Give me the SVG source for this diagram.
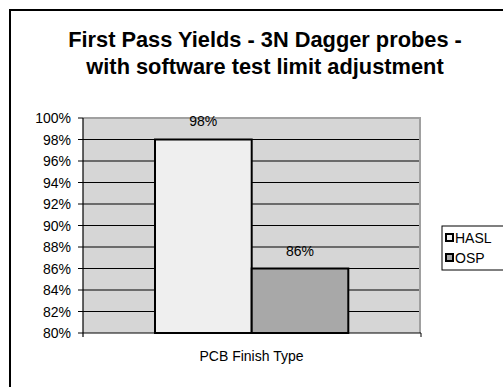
<svg xmlns="http://www.w3.org/2000/svg" width="503" height="387" viewBox="0 0 503 387">
  <style>
    text { font-family: "Liberation Sans", Arial, sans-serif; fill: #000; }
    .title { font-size: 21.8px; font-weight: bold; text-anchor: middle; }
    .tick { font-size: 14px; text-anchor: end; }
    .lbl { font-size: 14px; text-anchor: middle; }
    .leg { font-size: 14px; }
    .grid { stroke: #000; stroke-width: 1; }
    .bar { stroke: #000; stroke-width: 2; }
  </style>
  <rect width="503" height="387" fill="#fff"/>
  <!-- chart frame -->
  <rect x="10" y="10" width="520" height="400" fill="none" stroke="#000" stroke-width="2"/>

  <g id="title">
    <text class="title" x="265" y="47">First Pass Yields - 3N Dagger probes -</text>
    <text class="title" x="265" y="74">with software test limit adjustment</text>
  </g>

  <g id="plot-area">
    <rect x="83" y="118" width="337.5" height="215" fill="#d6d6d6"/>
    <g id="gridlines">
      <line class="grid" x1="83" y1="139.5" x2="420" y2="139.5"/>
      <line class="grid" x1="83" y1="161" x2="420" y2="161"/>
      <line class="grid" x1="83" y1="182.5" x2="420" y2="182.5"/>
      <line class="grid" x1="83" y1="204" x2="420" y2="204"/>
      <line class="grid" x1="83" y1="225.5" x2="420" y2="225.5"/>
      <line class="grid" x1="83" y1="247" x2="420" y2="247"/>
      <line class="grid" x1="83" y1="268.5" x2="420" y2="268.5"/>
      <line class="grid" x1="83" y1="290" x2="420" y2="290"/>
      <line class="grid" x1="83" y1="311.5" x2="420" y2="311.5"/>
    </g>
    <!-- plot border, top and right -->
    <polyline points="83,118 420,118 420,333" fill="none" stroke="#a0a0a0" stroke-width="2"/>
  </g>

  <g id="bar-hasl">
    <rect class="bar" x="155" y="139.5" width="96.7" height="193.5" fill="#efefef"/>
    <text class="lbl" x="203.3" y="125.5">98%</text>
  </g>
  <g id="bar-osp">
    <rect class="bar" x="251.7" y="268.5" width="96.6" height="64.5" fill="#a8a8a8"/>
    <text class="lbl" x="300" y="255.5">86%</text>
  </g>

  <g id="axes">
    <line x1="83" y1="118" x2="83" y2="337" stroke="#000" stroke-width="1.2"/>
    <line x1="83" y1="333" x2="421" y2="333" stroke="#000" stroke-width="1.2"/>
    <line x1="421" y1="333" x2="421" y2="337" stroke="#000" stroke-width="1"/>
    <g stroke="#000" stroke-width="1">
      <line x1="78" y1="118" x2="83" y2="118"/>
      <line x1="78" y1="139.5" x2="83" y2="139.5"/>
      <line x1="78" y1="161" x2="83" y2="161"/>
      <line x1="78" y1="182.5" x2="83" y2="182.5"/>
      <line x1="78" y1="204" x2="83" y2="204"/>
      <line x1="78" y1="225.5" x2="83" y2="225.5"/>
      <line x1="78" y1="247" x2="83" y2="247"/>
      <line x1="78" y1="268.5" x2="83" y2="268.5"/>
      <line x1="78" y1="290" x2="83" y2="290"/>
      <line x1="78" y1="311.5" x2="83" y2="311.5"/>
      <line x1="78" y1="333" x2="83" y2="333"/>
    </g>
    <g id="y-labels">
      <text class="tick" x="71" y="123">100%</text>
      <text class="tick" x="71" y="144.5">98%</text>
      <text class="tick" x="71" y="166">96%</text>
      <text class="tick" x="71" y="187.5">94%</text>
      <text class="tick" x="71" y="209">92%</text>
      <text class="tick" x="71" y="230.5">90%</text>
      <text class="tick" x="71" y="252">88%</text>
      <text class="tick" x="71" y="273.5">86%</text>
      <text class="tick" x="71" y="295">84%</text>
      <text class="tick" x="71" y="316.5">82%</text>
      <text class="tick" x="71" y="338">80%</text>
    </g>
    <text class="lbl" x="251.5" y="360.5">PCB Finish Type</text>
  </g>

  <g id="legend">
    <rect x="442" y="226" width="70" height="44" fill="#fff" stroke="#000" stroke-width="1"/>
    <rect x="446" y="234" width="7" height="7" fill="#efefef" stroke="#000" stroke-width="2"/>
    <text class="leg" x="455" y="243">HASL</text>
    <rect x="446" y="254" width="7" height="7" fill="#a8a8a8" stroke="#000" stroke-width="2"/>
    <text class="leg" x="455" y="263">OSP</text>
  </g>
</svg>
